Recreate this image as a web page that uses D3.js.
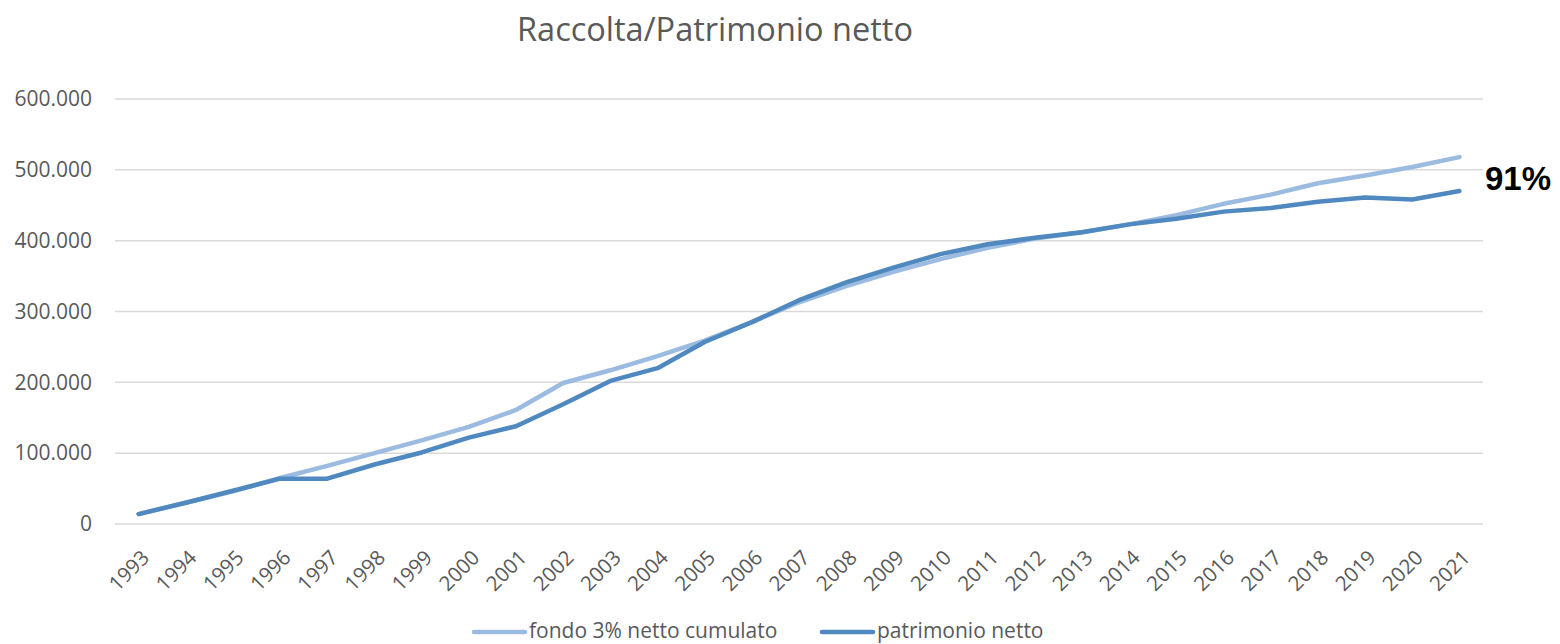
<!DOCTYPE html>
<html>
<head>
<meta charset="utf-8">
<script src="https://cdn.jsdelivr.net/npm/d3@7"></script>
<style>
  body { margin: 0; background: #fff; }
  svg { display: block; font-family: "Open Sans", sans-serif; }
</style>
</head>
<body>
<div id="chart"></div>
<script>
// data
const years = ["1993","1994","1995","1996","1997","1998","1999","2000","2001","2002",
  "2003","2004","2005","2006","2007","2008","2009","2010","2011","2012","2013","2014",
  "2015","2016","2017","2018","2019","2020","2021"];

const fondoCumulato = [14000, 30000, 46000, 65000, 82000, 100000, 118000, 137000, 161000, 199000,
  217000, 237000, 259000, 285000, 313000, 336000, 356000, 374000, 390000, 403000, 412000, 423000,
  436000, 452000, 465000, 481000, 492000, 504000, 518000];

const patrimonioNetto = [14000, 30000, 47000, 64000, 64000, 84000, 101000, 122000, 138000, 169000,
  202000, 220000, 257000, 285000, 316000, 341000, 362000, 381000, 395000, 404000, 412000, 423000,
  431000, 441000, 446000, 455000, 461000, 458000, 470000];

const yTickValues = [0, 100000, 200000, 300000, 400000, 500000, 600000];
const seriesNames = ["fondo 3% netto cumulato", "patrimonio netto"];
const ratioLabel = "91%";

const svgWidth = 1560;
const svgHeight = 644;
const margin = { top: 99, right: 77, bottom: 120, left: 115 };
const width = svgWidth - margin.left - margin.right;
const height = svgHeight - margin.top - margin.bottom;

const lightColor = "#9bbbe1";
const darkColor = "#4f89bf";
const textColor = "#595959";

const svg = d3.select("#chart")
  .append("svg")
  .attr("width", svgWidth)
  .attr("height", svgHeight);

const g = svg.append("g")
  .attr("transform", `translate(${margin.left},${margin.top})`);

const xScale = d3.scaleBand()
  .domain(years)
  .range([0, width]);

const yScale = d3.scaleLinear()
  .domain([0, 600000])
  .range([height, 0]);

// gridlines
g.selectAll(".grid")
  .data(yTickValues)
  .enter()
  .append("line")
  .attr("class", "grid")
  .attr("x1", 0)
  .attr("x2", width)
  .attr("y1", d => yScale(d))
  .attr("y2", d => yScale(d))
  .attr("stroke", "#d9d9d9")
  .attr("stroke-width", 1.5);

// y axis labels
const fmt = d => d === 0 ? "0" : d3.format(",")(d).replace(/,/g, ".");
const yAxis = d3.axisLeft(yScale)
  .tickValues(yTickValues)
  .tickFormat(fmt)
  .tickSize(0)
  .tickPadding(23);

g.append("g")
  .attr("class", "y-axis")
  .call(yAxis)
  .call(s => s.select(".domain").remove())
  .selectAll("text")
  .attr("fill", textColor)
  .style("font-size", "21px")
  .style("font-family", "Open Sans, sans-serif");

// x axis labels, rotated
const xAxis = d3.axisBottom(xScale).tickSize(0);
g.append("g")
  .attr("class", "x-axis")
  .attr("transform", `translate(0,${height})`)
  .call(xAxis)
  .call(s => s.select(".domain").remove())
  .selectAll("text")
  .attr("fill", textColor)
  .style("font-size", "20.5px")
  .style("font-family", "Open Sans, sans-serif")
  .attr("text-anchor", "end")
  .attr("y", 0)
  .attr("dy", 0)
  .attr("transform", "translate(12,35) rotate(-45)");

// lines
const line = d3.line()
  .x((d, i) => xScale(years[i]) + xScale.bandwidth() / 2)
  .y(d => yScale(d));

[[fondoCumulato, lightColor], [patrimonioNetto, darkColor]].forEach(([vals, col]) => {
  g.append("path")
    .datum(vals)
    .attr("fill", "none")
    .attr("stroke", col)
    .attr("stroke-width", 4.5)
    .attr("stroke-linecap", "round")
    .attr("stroke-linejoin", "round")
    .attr("d", line);
});

// title
svg.append("text")
  .attr("x", 715)
  .attr("y", 41)
  .attr("text-anchor", "middle")
  .attr("fill", textColor)
  .style("font-size", "32.5px")
  .text("Raccolta/Patrimonio netto");

// ratio label
svg.append("text")
  .attr("x", 1485)
  .attr("y", 190)
  .attr("fill", "#000")
  .style("font-family", "Liberation Sans, Arial, sans-serif")
  .style("font-weight", "bold")
  .style("font-size", "33px")
  .text(ratioLabel);

// legend
const legendItems = [
  { name: seriesNames[0], color: lightColor, x: 472 },
  { name: seriesNames[1], color: darkColor, x: 820 }
];
const legend = svg.append("g").attr("class", "legend");
legendItems.forEach(item => {
  legend.append("line")
    .attr("x1", item.x + 2)
    .attr("x2", item.x + 53)
    .attr("y1", 632)
    .attr("y2", 632)
    .attr("stroke", item.color)
    .attr("stroke-width", 4.5)
    .attr("stroke-linecap", "round");
  legend.append("text")
    .attr("x", item.x + 57)
    .attr("y", 638)
    .attr("fill", textColor)
    .style("font-size", "21px")
    .text(item.name);
});
</script>
</body>
</html>
